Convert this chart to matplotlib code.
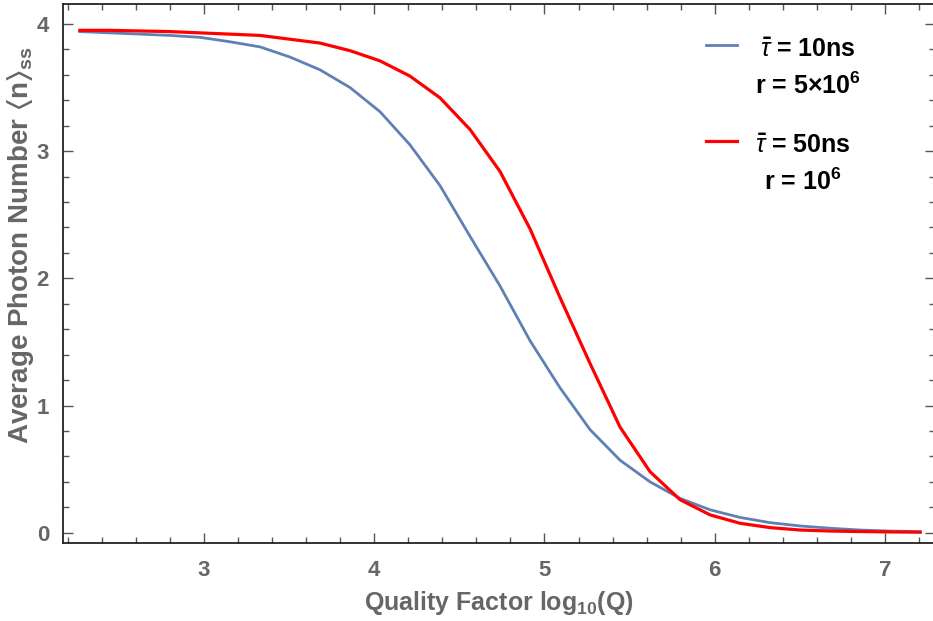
import numpy as np
import matplotlib
matplotlib.use("Agg")
import matplotlib.pyplot as plt
from matplotlib.legend_handler import HandlerLine2D
from matplotlib.ticker import MultipleLocator

# log10(Q) sample points
log_q = [2.271, 2.448, 2.624, 2.800, 2.976, 3.153, 3.329, 3.505, 3.681, 3.858,
         4.034, 4.210, 4.386, 4.563, 4.739, 4.915, 5.091, 5.268, 5.444, 5.620,
         5.796, 5.973, 6.149, 6.325, 6.501, 6.678, 6.854, 7.030, 7.207]

# tau = 10ns, r = 5e6
n_10ns = [3.94, 3.93, 3.92, 3.91, 3.895, 3.86, 3.82, 3.74, 3.64, 3.50,
          3.31, 3.05, 2.73, 2.33, 1.94, 1.51, 1.14, 0.81, 0.57, 0.40,
          0.27, 0.18, 0.12, 0.079, 0.053, 0.035, 0.021, 0.013, 0.008]

# tau = 50ns, r = 1e6
n_50ns = [3.95, 3.95, 3.945, 3.94, 3.93, 3.92, 3.91, 3.88, 3.85, 3.79,
          3.71, 3.59, 3.42, 3.17, 2.84, 2.39, 1.85, 1.33, 0.83, 0.48,
          0.26, 0.14, 0.074, 0.04, 0.021, 0.013, 0.009, 0.006, 0.004]

labels = ["$\\bar{\\mathit{\\tau}}$ = 10ns\nr = 5×10$^6$",
          "$\\bar{\\mathit{\\tau}}$ = 50ns\nr = 10$^6$"]

plt.rcParams['font.family'] = ['Liberation Sans', 'DejaVu Sans']
plt.rcParams['mathtext.fontset'] = 'custom'
plt.rcParams['mathtext.rm'] = 'Liberation Sans:bold'
plt.rcParams['mathtext.it'] = 'Liberation Sans:italic'
plt.rcParams['mathtext.bf'] = 'Liberation Sans:bold'
plt.rcParams['mathtext.default'] = 'bf'
plt.rcParams['mathtext.fallback'] = 'stixsans'

gray = '#666666'

fig = plt.figure(figsize=(9.33, 6.21), dpi=100)
ax = fig.add_axes([63 / 933, 78 / 621, 872 / 933, 539 / 621])

ax.plot(log_q, n_10ns, color='#5E81B5', lw=2.0, label=labels[0])
ax.plot(log_q, n_50ns, color='#FF0000', lw=2.3, label=labels[1])

ax.set_xlim(2.172, 7.294)
ax.set_ylim(-0.081, 4.157)

ax.xaxis.set_major_locator(MultipleLocator(1))
ax.xaxis.set_minor_locator(MultipleLocator(0.2))
ax.yaxis.set_major_locator(MultipleLocator(1))
ax.yaxis.set_minor_locator(MultipleLocator(0.2))
ax.tick_params(which='both', direction='in', top=True, right=True,
               color='#555555', width=1)
ax.tick_params(which='major', length=7, labelsize=16, labelcolor=gray)
ax.tick_params(axis='x', which='major', pad=12)
ax.tick_params(axis='y', which='major', pad=10)
ax.tick_params(which='minor', length=4)
for lab in ax.get_xticklabels() + ax.get_yticklabels():
    lab.set_fontweight('bold')
for sp in ax.spines.values():
    sp.set_color('#222222')
    sp.set_linewidth(1.3)

ax.set_xlabel('Quality Factor log$_{10}$(Q)', fontsize=18, fontweight='bold',
              color=gray, labelpad=6)
ax.set_ylabel('Average Photon Number $\\langle$n$\\rangle_{ss}$', fontsize=20,
              fontweight='bold', color=gray)
ax.yaxis.set_label_coords(-0.031, 0.553)


class FirstLineHandler(HandlerLine2D):
    # put the legend line next to the first text line
    def create_artists(self, legend, orig_handle, xdescent, ydescent,
                       width, height, fontsize, trans):
        arts = super().create_artists(legend, orig_handle, xdescent, ydescent,
                                      width, height, fontsize, trans)
        for a in arts:
            a.set_ydata(np.asarray(a.get_ydata()) + fontsize * 1.0)
        return arts


leg = ax.legend(loc='upper right', frameon=False, fontsize=18,
                handlelength=1.25, handletextpad=0.7, labelspacing=1.4,
                borderpad=0.2, bbox_to_anchor=(0.935, 0.969),
                handler_map={plt.Line2D: FirstLineHandler()})
for t in leg.get_texts():
    t.set_fontweight('bold')
    t.set_multialignment('center')
    t.set_linespacing(1.5)

fig.savefig('out.png', dpi=100)
